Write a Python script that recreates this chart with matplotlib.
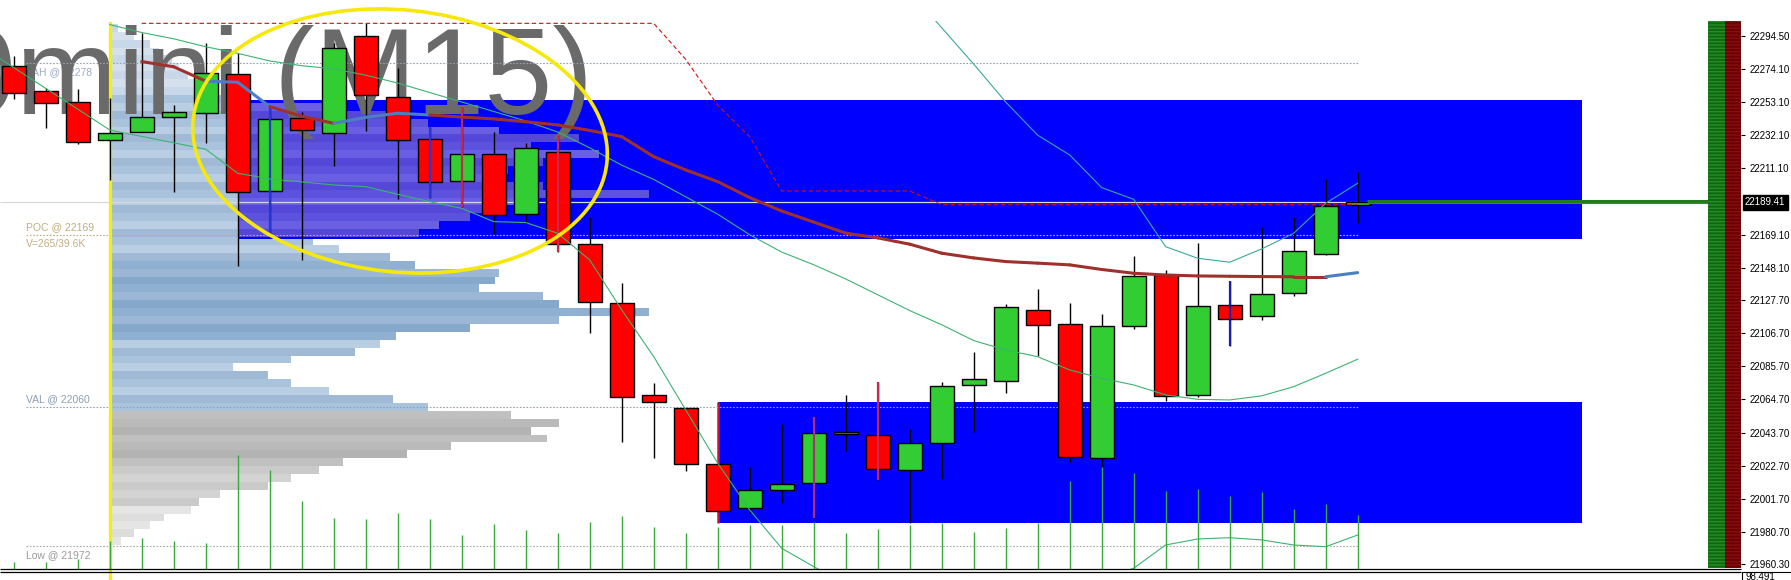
#!/usr/bin/env python3
"""
Re-draws the M15 mini chart: candles, volume profile, supply/demand zones,
bands and volume ticks. Saves out.png (1791x580).
"""
import matplotlib
matplotlib.use("Agg")
import matplotlib.pyplot as plt
from matplotlib.patches import Ellipse, Rectangle

# ---- candles, oldest first (bar index = list position) ----
opens = [22275.8, 22259.8, 22252.8, 22229.0, 22233.8, 22243.3, 22245.9, 22270.5, 22196.5, 22242.7,
         22233.2, 22294.8, 22256.4, 22229.4, 22203.0, 22219.9, 22181.8, 22221.5, 22162.9, 22125.6,
         22067.4, 22059.1, 22023.7, 21995.8, 22007.2, 22011.7, 22042.7, 22042.5, 22019.9, 22037.0,
         22073.7, 22076.6, 22121.2, 22112.3, 22027.5, 22111.1, 22143.7, 22067.4, 22124.3, 22117.4,
         22131.9, 22156.6, 22187.5]
highs = [22282.2, 22261.7, 22261.3, 22255.4, 22296.5, 22251.1, 22290.2, 22283.8, 22249.0, 22246.9,
         22290.6, 22302.8, 22274.3, 22237.4, 22250.1, 22234.3, 22227.3, 22232.3, 22180.5, 22138.3,
         22075.2, 22059.1, 22024.0, 22022.2, 22049.0, 22053.4, 22067.6, 22076.0, 22045.8, 22076.0,
         22095.0, 22125.2, 22134.7, 22125.6, 22118.8, 22155.6, 22146.7, 22163.8, 22139.5, 22174.1,
         22180.2, 22204.3, 22208.5]
lows = [22254.7, 22236.8, 22226.4, 22203.7, 22233.8, 22196.3, 22227.3, 22149.4, 22167.8, 22153.0,
        22212.7, 22234.7, 22191.4, 22192.1, 22186.8, 22169.5, 22176.7, 22158.3, 22106.6, 22038.0,
        22027.5, 22019.7, 21993.9, 21993.0, 21999.4, 21989.9, 22032.1, 22013.8, 21986.3, 22014.2,
        22044.4, 22068.6, 22092.3, 22025.4, 22022.2, 22109.4, 22064.0, 22066.0, 22098.8, 22115.2,
        22130.4, 22156.0, 22176.3]
closes = [22258.9, 22252.2, 22227.5, 22233.2, 22243.3, 22246.9, 22271.2, 22195.9, 22242.1, 22235.3,
          22287.0, 22257.5, 22229.0, 22202.2, 22219.9, 22181.5, 22223.7, 22162.9, 22126.2, 22066.1,
          22062.9, 22023.7, 21993.9, 22007.2, 22011.0, 22043.3, 22044.4, 22020.5, 22037.4, 22073.1,
          22077.5, 22123.3, 22111.7, 22028.1, 22111.1, 22142.7, 22066.7, 22123.7, 22115.5, 22131.3,
          22158.5, 22187.4, 22189.4]
volumes = [152, 152, 200, 560, 632, 560, 520, 2292, 1986, 1366,
           1032, 1006, 1126, 1006, 686, 906, 786, 730, 946, 1066,
           852, 732, 852, 886, 886, 952, 732, 800, 886, 920,
           752, 832, 926, 1772, 2052, 1932, 1572, 1606, 1466, 1552,
           1200, 1306, 1086]
# bars whose wick is painted by a signal colour
signal_wicks = {8: "#2438d0", 13: "#2438d0", 14: "#c8284c", 17: "#c8284c",
                25: "#b52a7e", 27: "#c8284c", 38: "#1c1ca6"}

# ---- indicators ----
ma_start = 4
ma_line = [22278.6, 22275.3, 22266.2, 22265.5, 22250.1, 22244.0, 22239.5, 22243.3, 22245.9, 22244.8,
           22243.5, 22242.3, 22240.5, 22238.5, 22235.0, 22231.1, 22218.4, 22210.0, 22202.6, 22192.5,
           22184.0, 22177.0, 22170.0, 22167.0, 22163.0, 22157.3, 22154.3, 22152.0, 22151.0, 22149.9,
           22147.0, 22144.6, 22143.5, 22142.9, 22142.7, 22142.5, 22142.4, 22142.4, 22145.0]
ma_rising = [6, 7, 10, 11, 12, 41]

slow_start = 3
slow_line = [22302.0, 22297.0, 22293.0, 22288.0, 22283.8, 22279.0, 22276.0, 22274.0, 22270.0, 22265.0,
             22259.0, 22253.0, 22247.0, 22241.0, 22234.0, 22224.0, 22213.0, 22204.0, 22193.0, 22182.0,
             22169.0, 22158.0, 22150.0, 22141.0, 22131.0, 22121.0, 22112.0, 22102.0, 22096.0, 22091.8,
             22083.4, 22078.1, 22073.9, 22067.6, 22064.8, 22064.4, 22067.0, 22072.8, 22081.3, 22090.2]

lower_start = -1
lower_band = [22288.0, 22274.8, 22261.6, 22248.5, 22235.3, 22231.2, 22227.2, 22223.1, 22207.9, 22204.3,
              22202.4, 22200.5, 22199.4, 22194.6, 22189.9, 22185.7, 22177.3, 22176.7, 22169.9, 22153.0,
              22121.4, 22091.8, 22058.1, 22024.4, 21994.8, 21970.5, 21958.9, 21948.0, 21942.0, 21938.0,
              21936.0, 21935.0, 21936.0, 21940.0, 21945.0, 21951.0, 21957.9, 21972.6, 21976.4, 21977.2,
              21975.8, 21972.6, 21971.5, 21978.9]

upper_start = 28
upper_band = [22323.0, 22300.0, 22277.0, 22253.0, 22232.0, 22219.5, 22198.8, 22191.4, 22161.4, 22154.1,
              22151.6, 22160.0, 22169.9, 22188.9, 22201.6]

stop_start = 4
stop_line = [22302.8] * 17 + [22280.0, 22251.0, 22231.0] + [22196.7] * 5 + [22188.0] * 14

# ---- volume profile (anchored at bar 3) ----
profile_anchor = 3.05
profile_prices = list(range(22300, 21970, -5))
profile_len = [0.2, 0.7, 1.2, 1.5, 1.9, 2.1, 2.4, 2.75, 3.2, 4.0,
               7.3, 9.0, 9.9, 12.1, 14.6, 13.1, 15.25, 13.5, 12.4, 12.1,
               13.5, 16.8, 12.75, 11.8, 11.2, 10.25, 9.6, 6.3, 7.1, 8.7,
               9.5, 12.1, 12.0, 11.5, 13.5, 14.0, 16.8, 14.0, 11.2, 8.9,
               8.4, 7.6, 5.6, 3.8, 4.9, 5.6, 6.8, 8.8, 9.9, 12.5,
               14.0, 13.1, 13.6, 10.6, 9.25, 7.25, 6.5, 5.6, 4.9, 3.4,
               2.75, 2.5, 1.65, 1.2, 0.7, 0.3]
vah, poc, val, low_mark = 22278, 22169, 22060, 21972
poc_text = "V=265/39.6K"

# ---- zones ----
supply_zone = (22166.5, 22254.3)
demand_zone = (21986.4, 22063.0)
supply_from, demand_from, zones_to = 7, 22, 49

bid = 22189.41
tick_vals = [22294.50, 22274.10, 22253.10, 22232.10, 22211.10, 22169.10, 22148.10, 22127.70,
             22106.70, 22085.70, 22064.70, 22043.70, 22022.70, 22001.70, 21980.70, 21960.30]
tick_labels = [f"{v:.2f}" for v in tick_vals]

W, H = 1791, 580
fig = plt.figure(figsize=(W / 100, H / 100), dpi=100)
fig.patch.set_facecolor("white")

ov = fig.add_axes([0, 0, 1, 1], zorder=10)
ov.set_xlim(0, W)
ov.set_ylim(H, 0)
ov.axis("off")
ov.patch.set_visible(False)

ax = fig.add_axes([0, 10.7 / H, 1741 / W, 548.8 / H])
ax.set_xlim(-0.43, 53.98)
ax.set_ylim(21957.2, 22304.6)
ax.set_facecolor("white")
for s in ax.spines.values():
    s.set_visible(False)

xs = list(range(len(opens)))

# profile rows
for k, (p, ln) in enumerate(zip(profile_prices, profile_len)):
    if p >= 22260:
        pal = ["#c9d8e8", "#d4e0ec"]
    elif p >= val:
        pal = ["#8fb0d0", "#9bb7d5", "#86a8cb"] if 22105 <= p <= 22150 else ["#aac3dc", "#b9cee3", "#a0bad6"]
    elif p >= 22025:
        pal = ["#b3b3b3", "#c0c0c0", "#bababa"]
    elif p >= 22000:
        pal = ["#cacaca", "#d3d3d3"]
    else:
        pal = ["#dddddd", "#e5e5e5"]
    ax.barh(p, ln, left=profile_anchor, height=5, color=pal[k % len(pal)], lw=0, zorder=1)
    end = profile_anchor + ln
    if supply_zone[0] + 2 <= p <= supply_zone[1] - 2 and end > supply_from:
        purple = ["#5d52de", "#6a5fe2", "#5548d8"][k % 3]
        ax.barh(p, end - supply_from, left=supply_from, height=5, color=purple, lw=0, zorder=3)

# zones
ax.add_patch(Rectangle((supply_from, supply_zone[0]), zones_to - supply_from,
                       supply_zone[1] - supply_zone[0], fc="#0000ff", ec="none", zorder=2))
ax.add_patch(Rectangle((demand_from, demand_zone[0]), zones_to - demand_from,
                       demand_zone[1] - demand_zone[0], fc="#0000ff", ec="none", zorder=2))
ax.vlines(demand_from, demand_zone[0], demand_zone[1], color="#c8143c", lw=1.8, zorder=3)

# watermark + profile labels
lab_font = "Liberation Sans"
ax.text(593, 114, "0mini (M15)", transform=ov.transData, ha="right", va="baseline",
        fontsize=88, color="#6a6a6a", family=lab_font, zorder=4)
labels = [("VAH @ %d" % vah, vah, -10, "#9cadc2"),
          ("POC @ %d" % poc, poc, 8, "#c2ad82"),
          (poc_text, poc, -9, "#c2ad82"),
          ("VAL @ %d" % val, val, 8, "#8c9db4"),
          ("Low @ %d" % low_mark, low_mark, -9, "#9a9a9a")]
for txt, lvl, dy, col in labels:
    ax.annotate(txt, xy=(0.38, lvl), xytext=(0, dy), textcoords="offset pixels",
                ha="left", va="center", fontsize=7.5, color=col, family=lab_font, zorder=3.5)

dots = (0, (1.5, 1.5))
ax.hlines(vah, 0.38, 42, color="#8fa3b8", lw=0.8, linestyles=dots, zorder=4.5)
ax.hlines(poc, 0.38, 42, color="#c2ad82", lw=0.8, linestyles=dots, zorder=4.5)
ax.hlines(val, 0.38, 42, color="#8fa3b8", lw=0.8, linestyles=dots, zorder=4.5)
ax.hlines(low_mark, 0.38, 42, color="#a8a8a8", lw=0.8, linestyles=dots, zorder=4.5)
ax.hlines(bid, -0.43, 42.3, color="#d8d8d8", lw=0.9, zorder=4.6)

# yellow session line
ax.plot([3, 3], [22303, 21950], color="#f7f000", lw=2.3, zorder=5, clip_on=False)

# candles
body_col = ["#32cd32" if c >= o else "#ff0000" for o, c in zip(opens, closes)]
ax.vlines(xs, lows, highs, color="black", lw=1.0, zorder=6)
ax.bar(xs, [max(abs(c - o), 1.0) for o, c in zip(opens, closes)],
       bottom=[min(o, c) for o, c in zip(opens, closes)], width=0.75,
       color=body_col, edgecolor="black", linewidth=1.0, zorder=7)
for i, col in signal_wicks.items():
    ax.vlines(i, lows[i], highs[i], color=col, lw=1.6, zorder=8)

# indicator lines
ax.plot(range(slow_start, slow_start + len(slow_line)), slow_line, color="#3cb371", lw=0.8, zorder=9)
ax.plot(range(lower_start, lower_start + len(lower_band)), lower_band, color="#3cb371", lw=0.8, zorder=9)
ax.plot(range(upper_start, upper_start + len(upper_band)), upper_band, color="#3aa89a", lw=0.8, zorder=9)
for k in range(len(ma_line) - 1):
    x0 = ma_start + k
    col = "#4a7fc0" if x0 in ma_rising else "#a0302c"
    ax.plot([x0, x0 + 1], [ma_line[k], ma_line[k + 1]], color=col, lw=2.2,
            solid_capstyle="round", zorder=9)
ax.plot(range(stop_start, stop_start + len(stop_line)), stop_line, color="#d01010", lw=0.8,
        linestyle=(0, (4, 2.5)), zorder=9)

# current price lines + strength bars
ax.hlines(bid + 1.0, 42.3, 52.95, color="#1b7d1b", lw=2.2, zorder=9)
ax.hlines(bid - 0.6, 42.3, 52.95, color="#d2401e", lw=0.8, zorder=9)
ax.axvspan(52.95, 53.47, ymin=0.003, ymax=1, fc="#0c6c0c", ec="#2a8a2a", hatch="-----", lw=0, zorder=9)
ax.axvspan(53.47, 53.98, ymin=0.003, ymax=1, fc="#6a0000", ec="#861010", hatch="-----", lw=0, zorder=9)

# price scale
ax.yaxis.tick_right()
ax.set_yticks(tick_vals)
ax.set_yticklabels(tick_labels, fontsize=7, family=lab_font)
ax.tick_params(axis="y", length=3, width=0.8, pad=3, colors="black")
ax.set_xticks([])
ax.annotate(f"{bid:.2f}", xy=(1, bid), xycoords=("axes fraction", "data"), xytext=(4, 0),
            textcoords="offset pixels", ha="left", va="center", fontsize=7, family=lab_font,
            color="white", bbox=dict(boxstyle="square,pad=0.25", fc="black", ec="black"))

# tick volume
axv = ax.twinx()
axv.set_ylim(0, 548.8 * 20)
axv.set_xlim(ax.get_xlim())
axv.vlines(xs, 0, volumes, color="#3aaa3a", lw=1.0)
axv.set_axis_off()
ax.yaxis.tick_right()

# window frame, sub-window value, hand drawn circle
ov.hlines([569.0, 571.5], 0, 1741, color="black", lw=0.9)
ov.add_patch(Rectangle((1742, 572), 60, 14, fc="white", ec="black", lw=0.8))
ov.text(1746, 577.5, "98.491", fontsize=7, family=lab_font, va="center", ha="left")
ov.add_patch(Ellipse((400, 141), 416, 262, angle=6, fill=False, ec="#f7e80c", lw=2.6))

fig.savefig("out.png", dpi=100)
